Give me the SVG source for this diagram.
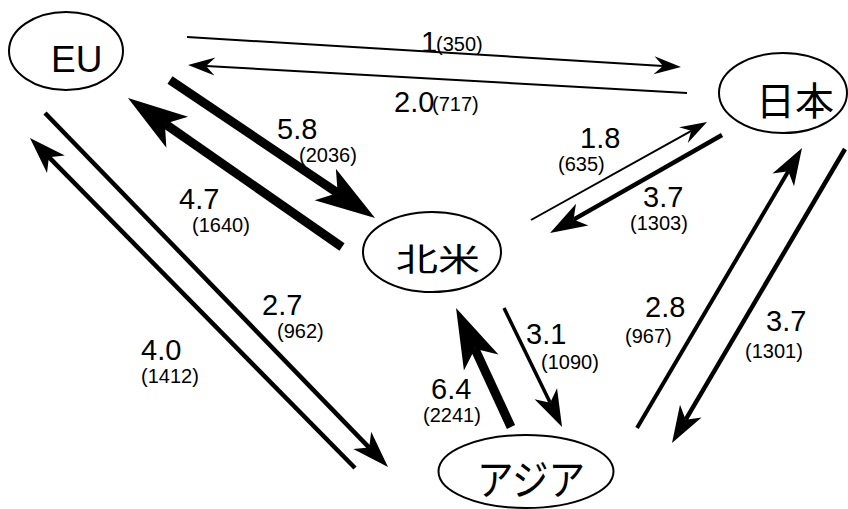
<svg xmlns="http://www.w3.org/2000/svg" width="848" height="509" viewBox="0 0 848 509">
<style>
.node{fill:#fff;stroke:#000;stroke-width:2}
.nl{font-family:"Liberation Sans",Arial,sans-serif;fill:#000}
.cjk{font-family:"Noto Sans CJK JP","Noto Sans CJK SC",sans-serif;fill:#000}
.c{fill:none;stroke:#000;stroke-linecap:butt}
.thin{stroke-width:2;marker-end:url(#ht)}
.med{stroke-width:4.5;marker-end:url(#hm)}
.thk{stroke-width:9;marker-end:url(#hk)}
.lb{font-family:"Liberation Sans",Arial,sans-serif;font-size:29px;fill:#000}
.sm{font-size:20px}
</style>
<defs>
<marker id="ht" markerUnits="userSpaceOnUse" orient="auto" overflow="visible" refX="0" refY="0" markerWidth="1" markerHeight="1"><path d="M18,0 L-9,-9 L0,0 L-9,9 Z" fill="#000"/></marker>
<marker id="hm" markerUnits="userSpaceOnUse" orient="auto" overflow="visible" refX="0" refY="0" markerWidth="1" markerHeight="1"><path d="M27,0 L-10,-12.5 L0,0 L-10,12.5 Z" fill="#000"/></marker>
<marker id="hk" markerUnits="userSpaceOnUse" orient="auto" overflow="visible" refX="0" refY="0" markerWidth="1" markerHeight="1"><path d="M45,0 L-15,-19 L0,0 L-15,19 Z" fill="#000"/></marker>
</defs>
<g id="EU"><ellipse class="node" cx="66" cy="51" rx="57" ry="39"/><text class="nl" x="51" y="72" font-size="37">EU</text></g>
<g id="Japan"><ellipse class="node" cx="783" cy="93" rx="64" ry="40"/><text class="cjk" x="795" y="115" font-size="39" text-anchor="middle">日本</text></g>
<g id="NorthAmerica"><ellipse class="node" cx="432" cy="252" rx="69" ry="40"/><text class="cjk" x="396" y="271" font-size="32" textLength="84" lengthAdjust="spacingAndGlyphs">北米</text></g>
<g id="Asia"><ellipse class="node" cx="526" cy="471.5" rx="87.5" ry="36.5"/><text class="cjk" x="477" y="495" font-size="42" textLength="108" lengthAdjust="spacingAndGlyphs">アジア</text></g>
<g id="connectors">
<line class="c thin" x1="187" y1="37" x2="663" y2="65.9"/>
<line class="c thin" x1="687" y1="93" x2="206" y2="66"/>
<line class="c thk" x1="170" y1="80" x2="337.7" y2="192.9"/>
<line class="c thk" x1="342" y1="247" x2="164.9" y2="123.7"/>
<line class="c med" x1="45" y1="113" x2="369.2" y2="447.6"/>
<line class="c med" x1="355" y1="468" x2="48.9" y2="157.2"/>
<line class="c thin" x1="531" y1="220" x2="691.3" y2="130.8"/>
<line class="c med" x1="722" y1="135" x2="573.5" y2="219.6"/>
<line class="c thk" x1="511" y1="427" x2="474.9" y2="348.8"/>
<line class="c med" style="stroke-width:3.5" x1="504" y1="308" x2="550.2" y2="402.7"/>
<line class="c med" style="stroke-width:4" x1="637" y1="428" x2="788.3" y2="171.3"/>
<line class="c med" x1="845" y1="149" x2="685.7" y2="419.7"/>
</g>
<g id="labels">
<text class="lb" x="421" y="52">1<tspan class="sm" x="436" y="51">(350)</tspan></text>
<text class="lb" x="394" y="112">2.0<tspan class="sm" x="432" y="111">(717)</tspan></text>
<text class="lb" x="277" y="139">5.8<tspan class="sm" x="299" y="162">(2036)</tspan></text>
<text class="lb" x="179" y="209">4.7<tspan class="sm" x="192" y="232">(1640)</tspan></text>
<text class="lb" x="580" y="148">1.8<tspan class="sm" x="558" y="171">(635)</tspan></text>
<text class="lb" x="643" y="207">3.7<tspan class="sm" x="630" y="230">(1303)</tspan></text>
<text class="lb" x="262" y="315">2.7<tspan class="sm" x="277" y="338">(962)</tspan></text>
<text class="lb" x="141" y="360">4.0<tspan class="sm" x="141" y="383">(1412)</tspan></text>
<text class="lb" x="526" y="344">3.1<tspan class="sm" x="541" y="369">(1090)</tspan></text>
<text class="lb" x="431" y="399">6.4<tspan class="sm" x="423" y="422">(2241)</tspan></text>
<text class="lb" x="645" y="317">2.8<tspan class="sm" x="625" y="343">(967)</tspan></text>
<text class="lb" x="766" y="331">3.7<tspan class="sm" x="745" y="358">(1301)</tspan></text>
</g>
</svg>
